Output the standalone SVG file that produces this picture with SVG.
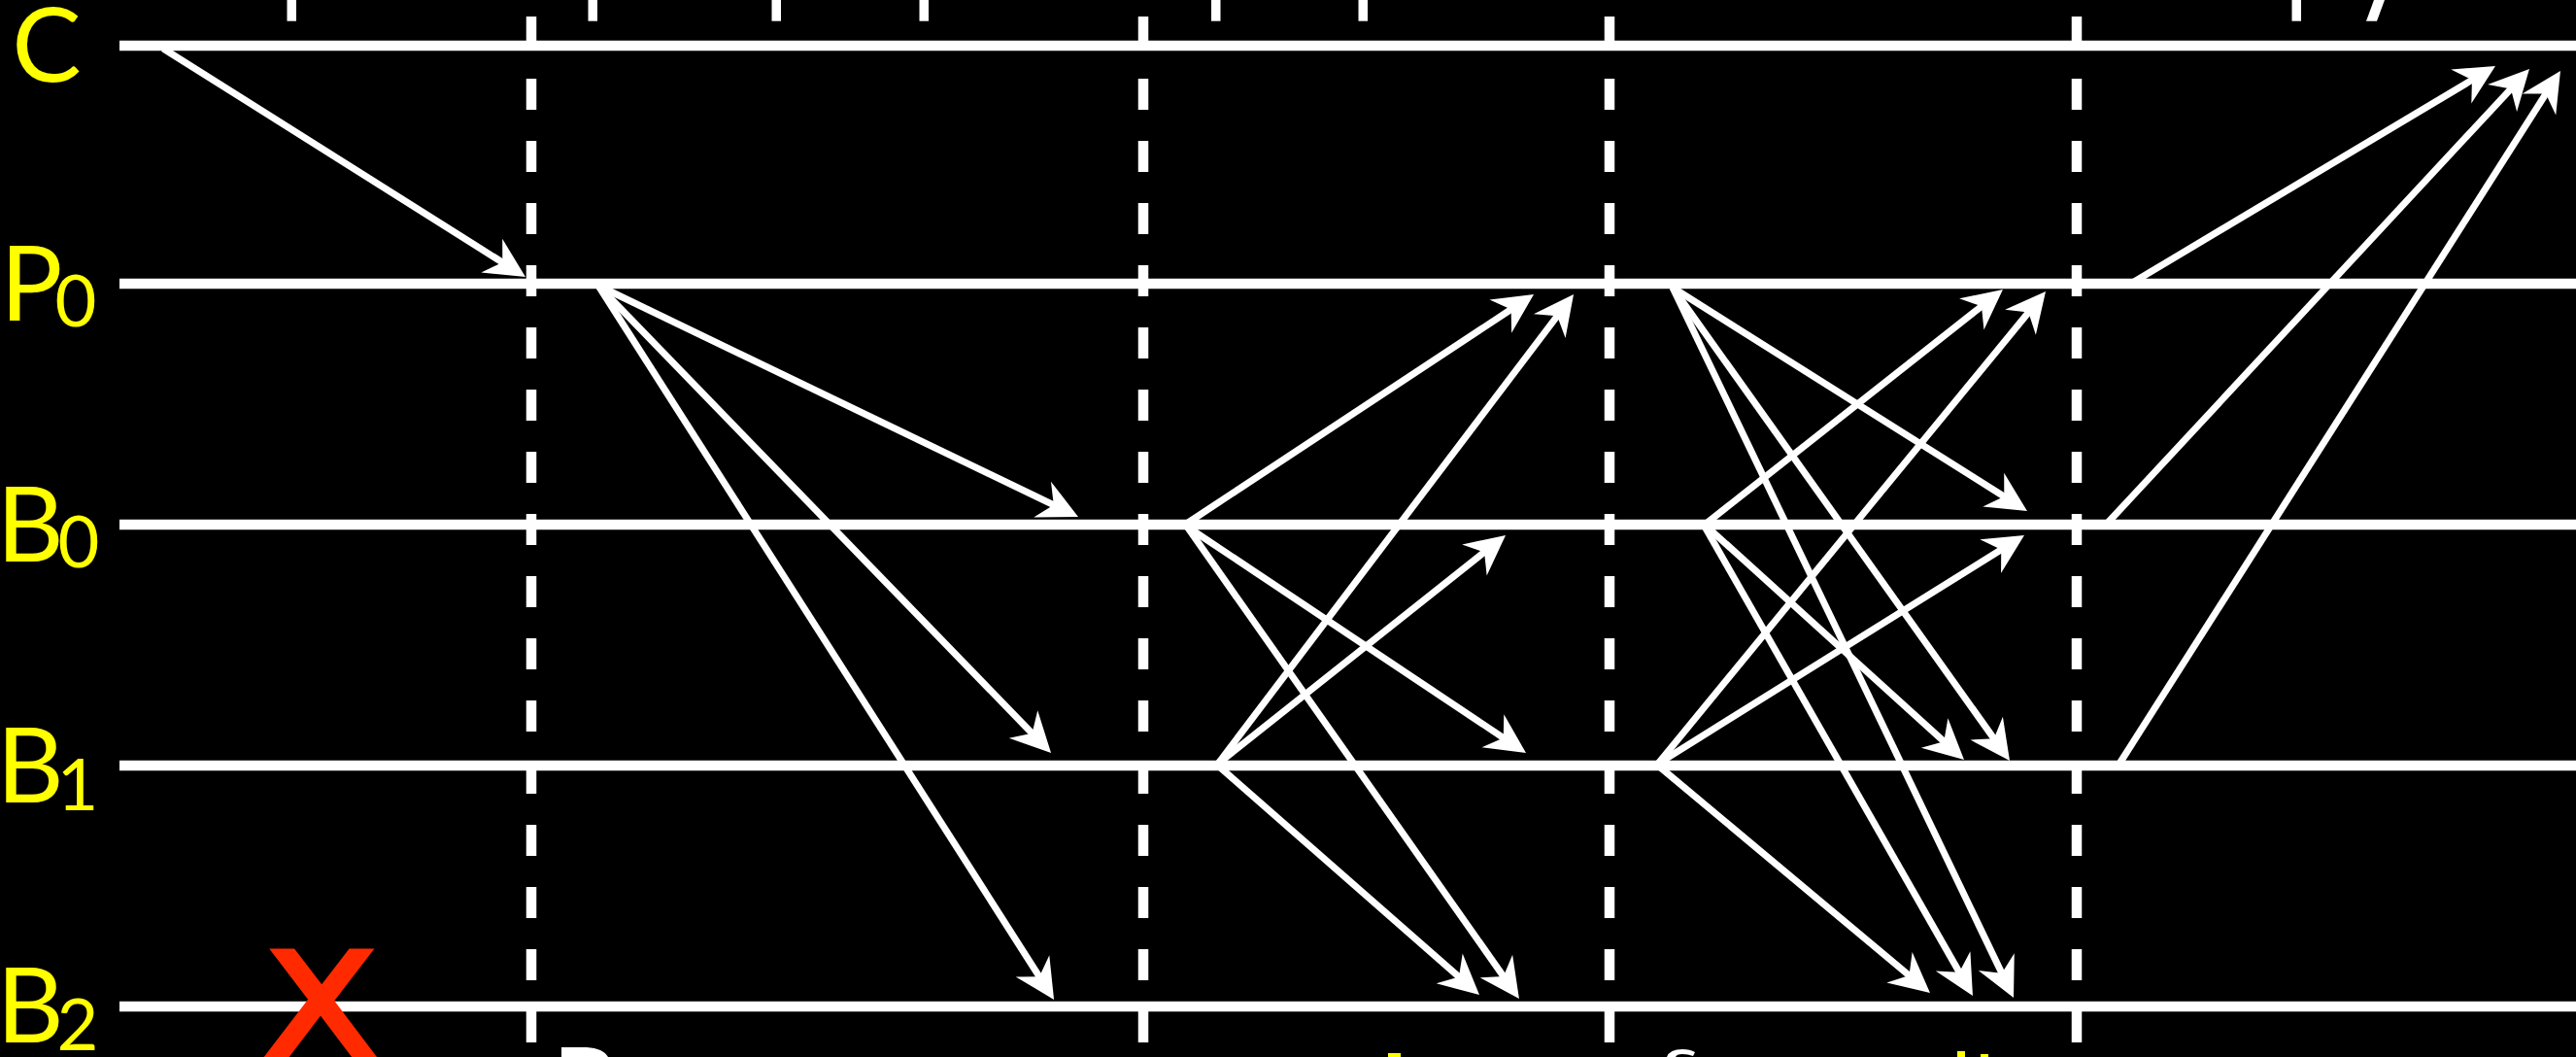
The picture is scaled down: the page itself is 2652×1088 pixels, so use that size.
<svg xmlns="http://www.w3.org/2000/svg" width="2652" height="1088" viewBox="0 0 2652 1088">
<style>
.lane{stroke:#fff;stroke-width:10.5}
.round{stroke:#fff;stroke-width:10.5;stroke-dasharray:32 32}
.msg{stroke:#fff;stroke-width:7;fill:none;marker-end:url(#ah)}
.lbl{font-family:Lato,"Open Sans",sans-serif;fill:#ffff00;text-anchor:middle}
.main{font-size:107px}
.sub{font-size:74px}
.frag{fill:#fff}
.fragY{fill:#ffff00}
</style>
<defs>
<marker id="ah" markerUnits="userSpaceOnUse" orient="auto" refX="0" refY="0" markerWidth="90" markerHeight="90" viewBox="-45 -45 90 90">
<path d="M10,0 L-31,-20.5 L-18,0 L-31,20.5 Z" fill="#fff"/>
</marker>
</defs>
<rect x="0" y="0" width="2652" height="1088" fill="#000"/>

<g id="fragments-top">
<rect class="frag" x="295.5" y="0" width="9.5" height="21.7"/>
<rect class="frag" x="605.5" y="0" width="9.5" height="21.7"/>
<rect class="frag" x="794.5" y="0" width="9.5" height="21.7"/>
<rect class="frag" x="946.5" y="0" width="9.5" height="21.7"/>
<rect class="frag" x="1247" y="0" width="9.5" height="21.7"/>
<rect class="frag" x="1398.5" y="0" width="9.5" height="21.7"/>
<rect class="frag" x="2359.5" y="0" width="9.5" height="21.7"/>
<polygon class="frag" points="2436,21.7 2447,21.7 2455,0 2444,0"/>
</g>

<g id="fragments-bottom">
<path class="frag" d="M578,1088 L578,1078 L604,1078 Q621,1079 626,1088 Z"/>
<rect class="fragY" x="1429" y="1084" width="13" height="4"/>
<path class="frag" d="M1716,1088 Q1719,1080 1732,1080 Q1740,1080 1745,1083 L1743,1087 Q1738,1085 1732,1085 Q1726,1085 1725,1088 Z"/>
<rect class="fragY" x="2015" y="1082" width="8" height="6"/>
<rect class="fragY" x="2039" y="1085" width="8" height="3"/>
</g>

<g id="rounds">
<line class="round" x1="547" y1="17" x2="547" y2="1088"/>
<line class="round" x1="1177" y1="17" x2="1177" y2="1088"/>
<line class="round" x1="1657" y1="17" x2="1657" y2="1088"/>
<line class="round" x1="2138" y1="17" x2="2138" y2="1088"/>
</g>

<g id="node-C">
<line class="lane" x1="123" y1="47" x2="2652" y2="47"/>
<text class="lbl main" x="48" y="84">C</text>
</g>
<g id="node-P0">
<line class="lane" x1="123" y1="292" x2="2652" y2="292"/>
<text class="lbl"><tspan class="main" x="32.5" y="330">P</tspan><tspan class="sub" x="78" y="336">0</tspan></text>
</g>
<g id="node-B0">
<line class="lane" x1="123" y1="540" x2="2652" y2="540"/>
<text class="lbl"><tspan class="main" x="31" y="578">B</tspan><tspan class="sub" x="81" y="584">0</tspan></text>
</g>
<g id="node-B1">
<line class="lane" x1="123" y1="788" x2="2652" y2="788"/>
<text class="lbl"><tspan class="main" x="31" y="826">B</tspan><tspan class="sub" x="80" y="834">1</tspan></text>
</g>
<g id="node-B2">
<line class="lane" x1="123" y1="1036" x2="2652" y2="1036"/>
<text class="lbl"><tspan class="main" x="31" y="1073">B</tspan><tspan class="sub" x="80" y="1081">2</tspan></text>
<text x="0" y="0" transform="translate(330,1085) scale(1.15,1)" text-anchor="middle" font-family="DejaVu Sans" font-size="144" fill="#ff2a00" stroke="#ff2a00" stroke-width="6" stroke-linejoin="miter">X</text>
</g>

<g id="connectors">
<line class="msg" x1="168" y1="50" x2="532.5" y2="279.7"/>
<line class="msg" x1="616" y1="294" x2="1101" y2="527.6"/>
<line class="msg" x1="616" y1="294" x2="1075.1" y2="767.8"/>
<line class="msg" x1="616" y1="294" x2="1079.7" y2="1020.5"/>
<line class="msg" x1="1220" y1="540" x2="1570.7" y2="308.5"/>
<line class="msg" x1="1222" y1="542" x2="1562.7" y2="769.5"/>
<line class="msg" x1="1222" y1="542" x2="1558.2" y2="1019.8"/>
<line class="msg" x1="1254" y1="786" x2="1614" y2="311"/>
<line class="msg" x1="1254" y1="786" x2="1542.2" y2="557.2"/>
<line class="msg" x1="1254" y1="788" x2="1515.5" y2="1017.4"/>
<line class="msg" x1="1722" y1="296" x2="2078.5" y2="520.7"/>
<line class="msg" x1="1722" y1="296" x2="2063.2" y2="774.9"/>
<line class="msg" x1="1722" y1="296" x2="2068.7" y2="1018"/>
<line class="msg" x1="1755" y1="540" x2="2054.1" y2="304.2"/>
<line class="msg" x1="1755" y1="540" x2="2014.6" y2="775.3"/>
<line class="msg" x1="1755" y1="542" x2="2026" y2="1016.3"/>
<line class="msg" x1="1707" y1="786" x2="2099.7" y2="307.7"/>
<line class="msg" x1="1707" y1="786" x2="2075.5" y2="556.3"/>
<line class="msg" x1="1707" y1="788" x2="1979.3" y2="1015.6"/>
<line class="msg" x1="2197" y1="290" x2="2560.4" y2="73.1"/>
<line class="msg" x1="2170" y1="538" x2="2597.2" y2="78.3"/>
<line class="msg" x1="2182" y1="786" x2="2630.6" y2="81.4"/>
</g>
</svg>
